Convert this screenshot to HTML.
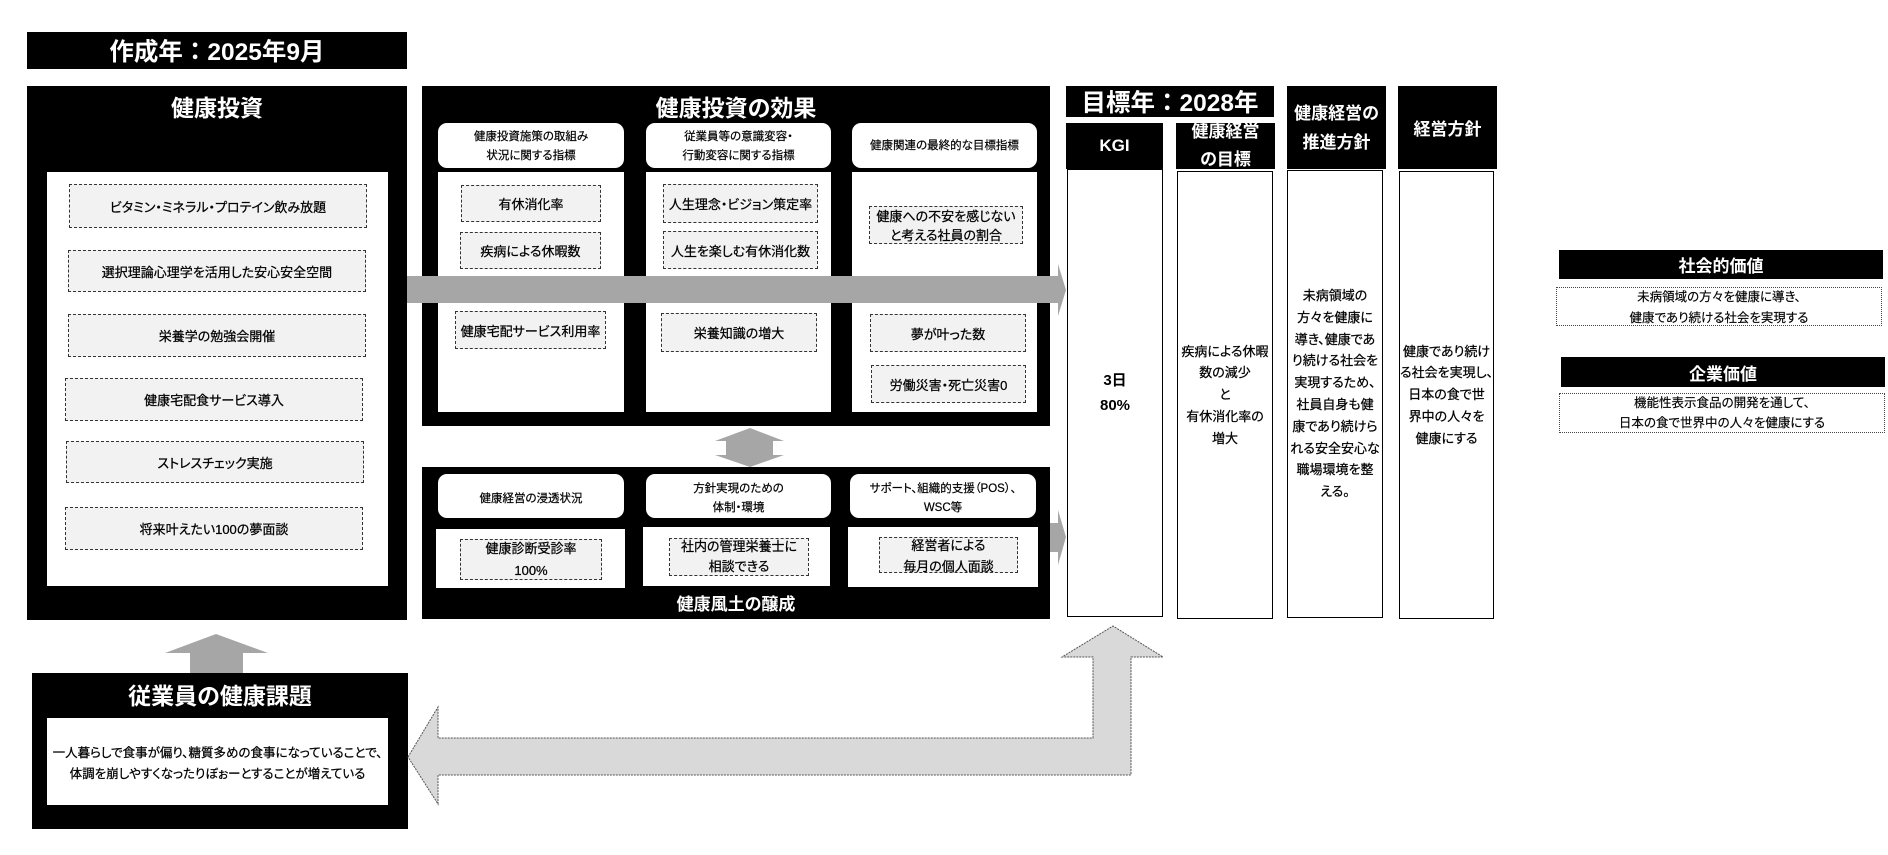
<!DOCTYPE html>
<html><head><meta charset="utf-8">
<style>
*{box-sizing:border-box;margin:0;padding:0}
html,body{width:1888px;height:855px;background:#fff;overflow:hidden}
body{position:relative;font-family:"Liberation Sans","Noto Sans CJK JP",sans-serif;font-feature-settings:"palt";color:#000}
.a{position:absolute}
.c{display:flex;align-items:center;justify-content:center;text-align:center;white-space:nowrap}
.blk{background:#000}
.wt{color:#fff;font-weight:bold}
.wb{background:#fff}
.it{background:#f2f2f2;border:1px dashed #333;font-size:13px;-webkit-text-stroke:0.25px #000}
.pill{background:#fff;border-radius:9px;font-size:11.5px;line-height:19px;-webkit-text-stroke:0.2px #000}
.col{background:#fff;border:1.3px solid #000;font-size:13px;line-height:21.8px;-webkit-text-stroke:0.25px #000}
.hd{background:#000;color:#fff;font-weight:bold;font-size:17px}
.dot{border:1.5px dotted #444;background:#fff;font-size:12.5px;line-height:21px;-webkit-text-stroke:0.15px #000}
.np{font-feature-settings:normal}
svg{position:absolute;left:0;top:0;overflow:visible}
</style></head><body>

<!-- 作成年 -->
<div class="a c blk wt np" style="left:27px;top:32px;width:380px;height:37px;font-size:24.5px;">作成年：2025年9月</div>

<!-- 健康投資 -->
<div class="a blk" style="left:27px;top:86px;width:380px;height:534px;"></div>
<div class="a c wt" style="left:27px;top:91px;width:380px;height:30px;font-size:23px;">健康投資</div>
<div class="a wb" style="left:47px;top:172px;width:341px;height:414px;"></div>
<div class="a c it" style="left:69px;top:184px;width:298px;height:44px;">ビタミン・ミネラル・プロテイン飲み放題</div>
<div class="a c it" style="left:68px;top:250px;width:298px;height:42px;">選択理論心理学を活用した安心安全空間</div>
<div class="a c it" style="left:68px;top:314px;width:298px;height:43px;">栄養学の勉強会開催</div>
<div class="a c it" style="left:65px;top:378px;width:298px;height:43px;">健康宅配食サービス導入</div>
<div class="a c it" style="left:66px;top:441px;width:298px;height:42px;">ストレスチェック実施</div>
<div class="a c it" style="left:65px;top:507px;width:298px;height:43px;">将来叶えたい100の夢面談</div>

<!-- 健康投資の効果 -->
<div class="a blk" style="left:422px;top:86px;width:628px;height:340px;"></div>
<div class="a c wt" style="left:422px;top:91px;width:628px;height:30px;font-size:23px;">健康投資の効果</div>
<div class="a c pill" style="left:438px;top:123px;width:186px;height:45px;padding-top:2px;">健康投資施策の取組み<br>状況に関する指標</div>
<div class="a c pill" style="left:646px;top:123px;width:185px;height:45px;padding-top:2px;">従業員等の意識変容・<br>行動変容に関する指標</div>
<div class="a c pill" style="left:852px;top:123px;width:185px;height:45px;padding-top:2px;">健康関連の最終的な目標指標</div>
<div class="a wb" style="left:438px;top:172px;width:186px;height:240px;"></div>
<div class="a wb" style="left:646px;top:172px;width:185px;height:240px;"></div>
<div class="a wb" style="left:852px;top:172px;width:185px;height:240px;"></div>
<div class="a c it" style="left:461px;top:185px;width:140px;height:37px;">有休消化率</div>
<div class="a c it" style="left:460px;top:232px;width:141px;height:37px;">疾病による休暇数</div>
<div class="a c it" style="left:455px;top:311px;width:151px;height:38px;">健康宅配サービス利用率</div>
<div class="a c it" style="left:663px;top:184px;width:155px;height:39px;">人生理念・ビジョン策定率</div>
<div class="a c it" style="left:663px;top:231px;width:155px;height:38px;">人生を楽しむ有休消化数</div>
<div class="a c it" style="left:661px;top:313px;width:156px;height:39px;">栄養知識の増大</div>
<div class="a c it" style="left:869px;top:206px;width:154px;height:38px;line-height:19px;padding-top:1px;">健康への不安を感じない<br>と考える社員の割合</div>
<div class="a c it" style="left:870px;top:314px;width:156px;height:38px;">夢が叶った数</div>
<div class="a c it" style="left:871px;top:365px;width:155px;height:38px;">労働災害・死亡災害0</div>

<!-- upper gray arrow -->
<svg width="1888" height="855"><polygon points="407,276 1058,276 1058,264 1066,290 1058,316 1058,303 407,303" fill="#a6a6a6"/></svg>

<!-- double vertical arrow -->
<svg width="1888" height="855"><polygon points="750,428 784,441 773,441 773,455 784,455 750,467 715,455 726,455 726,441 715,441" fill="#a6a6a6"/></svg>

<!-- lower gray arrow (behind box) -->
<svg width="1888" height="855"><polygon points="1000,523 1058,523 1058,510 1066,537 1058,565 1058,552 1000,552" fill="#a6a6a6"/></svg>

<!-- 健康風土の醸成 -->
<div class="a blk" style="left:422px;top:467px;width:628px;height:152px;"></div>
<div class="a c pill" style="left:438px;top:474px;width:186px;height:44px;padding-top:6px;">健康経営の浸透状況</div>
<div class="a c pill" style="left:646px;top:474px;width:185px;height:44px;padding-top:6px;">方針実現のための<br>体制・環境</div>
<div class="a c pill" style="left:850px;top:474px;width:186px;height:44px;padding-top:6px;">サポート、組織的支援（POS）、<br>WSC等</div>
<div class="a wb" style="left:436px;top:529px;width:189px;height:59px;"></div>
<div class="a wb" style="left:643px;top:527px;width:187px;height:59px;"></div>
<div class="a wb" style="left:848px;top:527px;width:190px;height:60px;"></div>
<div class="a c it" style="left:460px;top:539px;width:142px;height:41px;line-height:22px;">健康診断受診率<br>100%</div>
<div class="a c it" style="left:669px;top:538px;width:140px;height:38px;line-height:20px;">社内の管理栄養士に<br>相談できる</div>
<div class="a c it" style="left:879px;top:537px;width:139px;height:36px;line-height:21px;padding-top:2px;">経営者による<br>毎月の個人面談</div>
<div class="a c wt" style="left:422px;top:591px;width:628px;height:22px;font-size:17px;">健康風土の醸成</div>

<!-- 目標年 -->
<div class="a c blk wt np" style="left:1066px;top:86px;width:208px;height:31px;font-size:24.5px;">目標年：2028年</div>

<!-- KGI -->
<div class="a c hd" style="left:1066px;top:123px;width:97px;height:46px;">KGI</div>
<div class="a c col" style="left:1067px;top:169px;width:96px;height:448px;font-weight:bold;font-size:15px;line-height:25px;-webkit-text-stroke:0;">3日<br>80%</div>

<!-- 健康経営の目標 -->
<div class="a hd" style="left:1176px;top:123px;width:99px;height:46px;overflow:hidden;"></div>
<div class="a c" style="left:1176px;top:118px;width:99px;height:56px;color:#fff;font-weight:bold;font-size:17px;line-height:28px;">健康経営<br>の目標</div>
<div class="a c col" style="left:1177px;top:171px;width:96px;height:448px;">疾病による休暇<br>数の減少<br>と<br>有休消化率の<br>増大</div>

<!-- 健康経営の推進方針 -->
<div class="a c hd" style="left:1287px;top:86px;width:99px;height:83px;line-height:29px;padding-top:1px;">健康経営の<br>推進方針</div>
<div class="a c col" style="left:1287px;top:170px;width:96px;height:448px;">未病領域の<br>方々を健康に<br>導き、健康であ<br>り続ける社会を<br>実現するため、<br>社員自身も健<br>康であり続けら<br>れる安全安心な<br>職場環境を整<br>える。</div>

<!-- 経営方針 -->
<div class="a c hd" style="left:1398px;top:86px;width:99px;height:83px;">経営方針</div>
<div class="a c col" style="left:1399px;top:171px;width:95px;height:448px;">健康であり続け<br>る社会を実現し、<br>日本の食で世<br>界中の人々を<br>健康にする</div>

<!-- 社会的価値 / 企業価値 -->
<div class="a c hd" style="left:1559px;top:250px;width:324px;height:29px;">社会的価値</div>
<div class="a c dot" style="left:1556px;top:287px;width:326px;height:39px;padding-top:2px;">未病領域の方々を健康に導き、<br>健康であり続ける社会を実現する</div>
<div class="a c hd" style="left:1561px;top:357px;width:324px;height:30px;">企業価値</div>
<div class="a c dot" style="left:1559px;top:393px;width:326px;height:40px;line-height:20px;">機能性表示食品の開発を通して、<br>日本の食で世界中の人々を健康にする</div>

<!-- 従業員の健康課題 -->
<svg width="1888" height="855"><polygon points="216,634 268,653 243,653 243,674 190,674 190,653 165,653" fill="#a6a6a6"/></svg>
<div class="a blk" style="left:32px;top:673px;width:376px;height:156px;"></div>
<div class="a c wt" style="left:32px;top:679px;width:376px;height:30px;font-size:23px;">従業員の健康課題</div>
<div class="a c wb" style="left:47px;top:718px;width:341px;height:87px;font-size:12.5px;line-height:21px;padding-top:4px;overflow:visible;-webkit-text-stroke:0.25px #000;">一人暮らしで食事が偏り、糖質多めの食事になっていることで、<br>体調を崩しやすくなったりぼぉーとすることが増えている</div>

<!-- big dashed arrow -->
<svg width="1888" height="855"><polygon points="408,757 438,707 438,738 1093,738 1093,657 1062,657 1113,626 1163,657 1131,657 1131,775 438,775 438,804" fill="#d9d9d9" stroke="#555" stroke-width="1" stroke-dasharray="2,1"/></svg>

</body></html>
